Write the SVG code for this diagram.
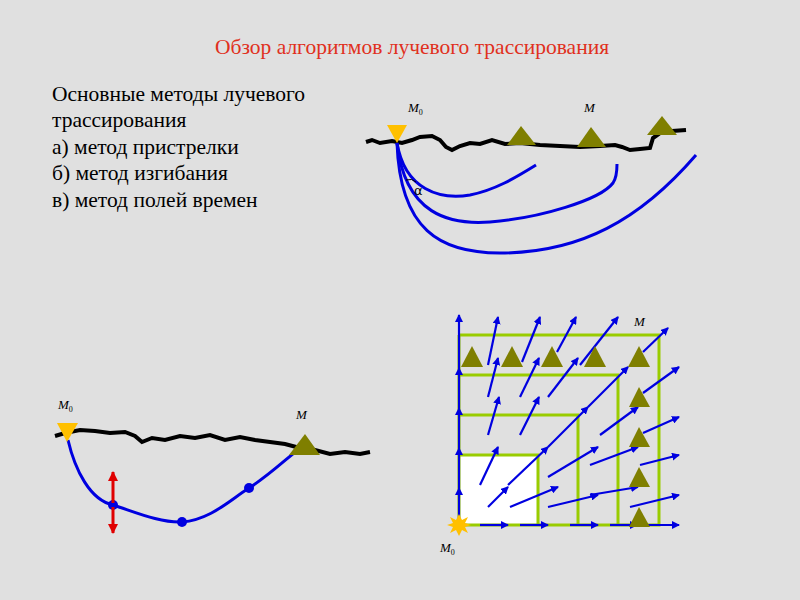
<svg xmlns="http://www.w3.org/2000/svg" width="800" height="600" viewBox="0 0 800 600">
<defs>
<marker id="ah" markerWidth="8" markerHeight="8" refX="7" refY="4" orient="auto" markerUnits="userSpaceOnUse"><path d="M0,0 L8,4 L0,8 Z" fill="#0000e0"/></marker>
<marker id="rh" markerWidth="10" markerHeight="10" refX="9" refY="5" orient="auto" markerUnits="userSpaceOnUse"><path d="M0,0 L10,5 L0,10 Z" fill="#e00000"/></marker>
<style>
.t{font-family:"Liberation Serif",serif;font-size:21.5px;fill:#000}
.lb{font-family:"Liberation Serif",serif;font-style:italic;font-size:13px;fill:#000}
.ray{fill:none;stroke:#0000e0;stroke-width:3}
.ar{stroke:#0000e0;stroke-width:2.2;marker-end:url(#ah)}
.grid{fill:none;stroke:#99cc00;stroke-width:3}
.tri{fill:#7f7f00}
.src{fill:#ffc000}
.gr{fill:none;stroke:#000;stroke-width:4}
</style>
</defs>
<rect width="800" height="600" fill="#e0e0e0"/>
<text x="412" y="54" text-anchor="middle" style="font-family:'Liberation Serif',serif;font-size:21.5px;fill:#e03020">Обзор алгоритмов лучевого трассирования</text>
<g id="intro">
<text class="t" x="52" y="101">Основные методы лучевого</text>
<text class="t" x="52" y="127">трассирования</text>
<text class="t" x="52" y="154">а) метод пристрелки</text>
<text class="t" x="52" y="180">б) метод изгибания</text>
<text class="t" x="52" y="207">в) метод полей времен</text>
</g>
<g id="shooting">
<path class="gr" d="M366,142 L372,140 L380,143 L392,141 L402,143 L412,140 L420,137 L432,136 L440,140 L446,147 L452,150 L460,146 L470,143 L480,144 L492,140 L505,144 L520,143 L540,145 L560,146 L580,147 L600,146 L615,145 L622,147 L630,150 L640,149 L650,148 L653,138 L660,133 L672,131 L686,130"/>
<path class="ray" d="M397,143 C405,190 440,200 470,195 C495,190 515,178 536,165"/>
<path class="ray" d="M397,143 C405,215 450,225 490,222 C540,218 600,200 613,183 C617,177 617,170 617,164"/>
<path class="ray" d="M397,143 C400,230 440,253 500,253 C580,253 640,220 696,155"/>
<path d="M406,180 Q412,178 416,182" fill="none" stroke="#000" stroke-width="1"/>
<text x="414" y="195" style="font-family:'DejaVu Sans',sans-serif;font-size:13px">α</text>
<polygon class="src" points="387,125 407,125 397,143"/>
<polygon class="tri" points="507,145 536,145 521,126"/>
<polygon class="tri" points="577,147 606,147 591,127"/>
<polygon class="tri" points="647,135 677,135 662,116"/>
<text class="lb" x="408" y="112">M<tspan font-size="8" dy="3" font-style="normal">0</tspan></text>
<text class="lb" x="584" y="112">M</text>
</g>
<g id="bending">
<path class="gr" d="M55,436 L65,433 L80,430 L95,431 L110,433 L125,432 L135,436 L142,442 L152,438 L165,440 L180,436 L195,438 L210,435 L225,440 L240,437 L255,440 L270,442 L285,444 L300,448 L315,450 L330,454 L345,452 L360,454 L370,452"/>
<path class="ray" d="M68,440 C75,470 90,500 113,505 C135,512 160,523 182,522 C210,520 230,500 249,488 C270,475 290,455 302,447"/>
<circle cx="113" cy="505" r="5" fill="#0000e0"/>
<circle cx="182" cy="522" r="5" fill="#0000e0"/>
<circle cx="249" cy="488" r="5" fill="#0000e0"/>
<line x1="113" y1="503" x2="113" y2="472" stroke="#e00000" stroke-width="3" marker-end="url(#rh)"/>
<line x1="113" y1="507" x2="113" y2="533" stroke="#e00000" stroke-width="3" marker-end="url(#rh)"/>
<polygon class="src" points="57,423 78,423 67,442"/>
<polygon class="tri" points="289,455 320,455 305,434"/>
<text class="lb" x="58" y="409">M<tspan font-size="8" dy="3" font-style="normal">0</tspan></text>
<text class="lb" x="296" y="419">M</text>
</g>
<g id="fields">
<rect x="459" y="455" width="79" height="70" fill="#fff"/>
<path class="grid" d="M459,525 H659 V335 H459 M459,455 H538 V525 M459,415 H578 V525 M459,375 H618 V525 M459,335 V525"/>
<g class="ar">
<line x1="459" y1="525" x2="459" y2="488"/><line x1="459" y1="488" x2="459" y2="448"/><line x1="459" y1="448" x2="459" y2="408"/><line x1="459" y1="408" x2="459" y2="368"/><line x1="459" y1="368" x2="459" y2="315"/>
<line x1="480" y1="525" x2="508" y2="525"/><line x1="520" y1="525" x2="548" y2="525"/><line x1="570" y1="525" x2="598" y2="525"/><line x1="610" y1="525" x2="637" y2="525"/><line x1="640" y1="525" x2="679" y2="525"/>
<line x1="480" y1="485" x2="498" y2="447"/>
<line x1="488" y1="435" x2="499" y2="397"/>
<line x1="488" y1="397" x2="498" y2="358"/>
<line x1="488" y1="365" x2="498" y2="317"/>
<line x1="520" y1="435" x2="539" y2="397"/>
<line x1="520" y1="397" x2="539" y2="358"/>
<line x1="522" y1="362" x2="540" y2="317"/>
<line x1="548" y1="397" x2="578" y2="358"/>
<line x1="557" y1="352" x2="576" y2="317"/>
<line x1="580" y1="365" x2="618" y2="317"/>
<line x1="488" y1="507" x2="508" y2="487"/>
<line x1="508" y1="485" x2="548" y2="447"/>
<line x1="548" y1="447" x2="588" y2="407"/>
<line x1="588" y1="407" x2="628" y2="367"/>
<line x1="510" y1="507" x2="558" y2="487"/>
<line x1="548" y1="477" x2="598" y2="447"/>
<line x1="548" y1="507" x2="598" y2="495"/>
<line x1="590" y1="465" x2="638" y2="447"/>
<line x1="600" y1="435" x2="638" y2="407"/>
<line x1="590" y1="495" x2="638" y2="487"/>
<line x1="630" y1="507" x2="679" y2="495"/>
<line x1="640" y1="465" x2="679" y2="455"/>
<line x1="643" y1="433" x2="679" y2="417"/>
<line x1="643" y1="393" x2="679" y2="367"/>
<line x1="643" y1="352" x2="668" y2="328"/>
</g>
<g class="tri">
<polygon points="461,367 483,367 472,346"/><polygon points="501,367 523,367 512,346"/><polygon points="541,367 563,367 552,346"/><polygon points="584,367 606,367 595,346"/><polygon points="628,367 650,367 639,346"/>
<polygon points="629,407 650,407 639,387"/><polygon points="629,447 650,447 639,427"/><polygon points="629,487 650,487 639,467"/><polygon points="629,527 650,527 639,507"/>
</g>
<polygon fill="#ffc000" points="459,514 462,520 468,517 465,523 471,525 465,527 468,533 462,530 459,536 456,530 450,533 453,527 447,525 453,523 450,517 456,520"/>
<text class="lb" x="634" y="326">M</text>
<text class="lb" x="440" y="552">M<tspan font-size="8" dy="3" font-style="normal">0</tspan></text>
</g>
</svg>
